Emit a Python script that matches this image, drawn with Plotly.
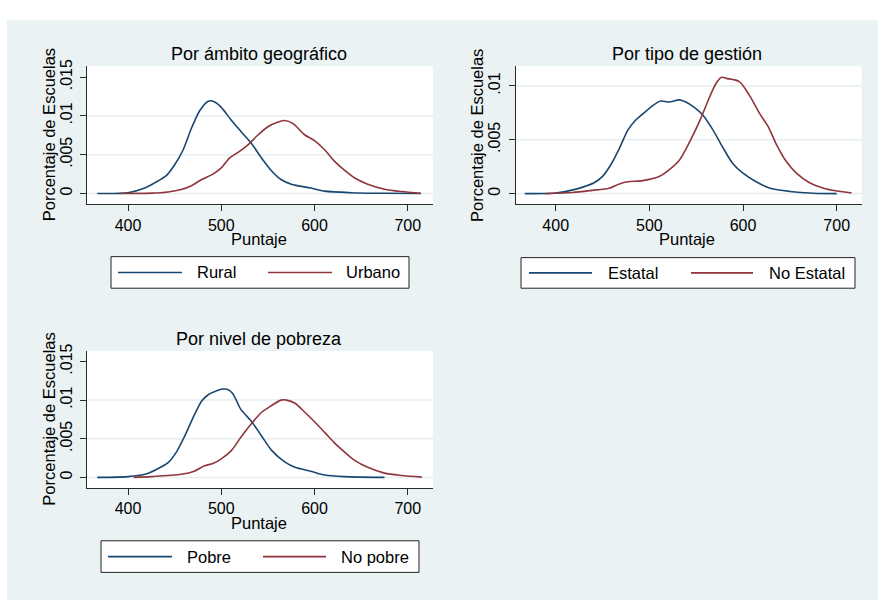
import plotly.graph_objects as go

W, H = 878, 600

# ---------------- data ----------------
rural_x = [367, 400, 418, 429, 441, 450, 459, 468, 477, 486, 493, 500, 511, 521, 532, 543, 554, 564, 575, 596, 611, 639, 675, 714]
rural_y = [0.0, 0.0001, 0.0007, 0.0014, 0.0023, 0.0037, 0.0056, 0.0084, 0.0107, 0.0119, 0.0118, 0.0111, 0.0094, 0.0080, 0.0065, 0.0046, 0.0029, 0.0018, 0.0012, 0.0007, 0.0003, 0.0001, 0.00002, 0.0]

urbano_x = [391, 425, 443, 457, 468, 479, 491, 500, 509, 518, 529, 539, 550, 561, 568, 577, 589, 600, 611, 621, 632, 643, 657, 675, 693, 714]
urbano_y = [0.0, 0.00004, 0.0002, 0.0005, 0.0010, 0.0018, 0.0025, 0.0033, 0.0046, 0.0053, 0.0063, 0.0075, 0.0086, 0.0092, 0.0094, 0.0090, 0.0076, 0.0068, 0.0056, 0.0042, 0.0030, 0.0020, 0.0012, 0.00055, 0.00025, 0.00004]

estatal_x = [367, 400, 416, 429, 441, 450, 459, 468, 477, 484, 493, 504, 512, 521, 532, 539, 548, 557, 568, 579, 589, 600, 614, 629, 650, 675, 700]
estatal_y = [0.0, 0.00006, 0.0003, 0.0006, 0.0010, 0.0016, 0.0027, 0.0042, 0.0059, 0.0067, 0.0074, 0.0082, 0.0086, 0.0085, 0.0087, 0.0085, 0.0080, 0.0073, 0.0059, 0.0042, 0.0028, 0.0019, 0.0011, 0.0005, 0.0002, 0.00003, 0.0]

noestatal_x = [389, 418, 439, 457, 468, 477, 493, 511, 521, 532, 543, 554, 564, 571, 577, 582, 596, 607, 618, 627, 636, 646, 657, 671, 686, 700, 716]
noestatal_y = [0.0, 0.0001, 0.0003, 0.0005, 0.0009, 0.0011, 0.0012, 0.0016, 0.0022, 0.0031, 0.0048, 0.0068, 0.0089, 0.0102, 0.0108, 0.0107, 0.0104, 0.0091, 0.0074, 0.0062, 0.0045, 0.0030, 0.0019, 0.0010, 0.0005, 0.00024, 0.00006]

pobre_x = [367, 400, 418, 430, 443, 452, 461, 470, 479, 486, 493, 500, 506, 512, 521, 532, 543, 554, 568, 579, 596, 611, 632, 675]
pobre_y = [0.0, 0.0001, 0.0004, 0.0010, 0.0019, 0.0033, 0.0054, 0.0078, 0.0099, 0.0107, 0.0111, 0.0114, 0.0114, 0.0109, 0.0088, 0.0073, 0.0054, 0.0035, 0.0020, 0.0013, 0.0008, 0.0003, 0.0001, 0.0]

nopobre_x = [406, 425, 457, 471, 482, 491, 500, 511, 521, 532, 543, 554, 564, 570, 579, 589, 600, 611, 621, 632, 643, 657, 675, 693, 715]
nopobre_y = [0.0, 0.0001, 0.0004, 0.0008, 0.0015, 0.0018, 0.0024, 0.0035, 0.0052, 0.0069, 0.0084, 0.0093, 0.0100, 0.0100, 0.0096, 0.0085, 0.0072, 0.0058, 0.0045, 0.0033, 0.0022, 0.0013, 0.00055, 0.00025, 0.00004]

panel_titles = ["Por ámbito geográfico", "Por tipo de gestión", "Por nivel de pobreza"]
series_names = [["Rural", "Urbano"], ["Estatal", "No Estatal"], ["Pobre", "No pobre"]]
x_title = "Puntaje"
y_title = "Porcentaje de Escuelas"
x_ticks = [400, 500, 600, 700]
y_ticks_1 = [0, 0.005, 0.01, 0.015]
y_ticks_2 = [0, 0.005, 0.01]
y_ticks_3 = [0, 0.005, 0.01, 0.015]
y_tick_text = {0: "0", 0.005: ".005", 0.01: ".01", 0.015: ".015"}

# ---------------- styling ----------------
BLUE = "#1a476f"
RED = "#90353b"
BG = "#eaf2f3"
GRID = "#e6eef0"
AXC = "#2b2b2b"
FONT = "Liberation Sans, Arial, sans-serif"


def px(x):
    return x / W


def py(y):
    return 1 - y / H


fig = go.Figure()

panels = [
    dict(xs=(rural_x, urbano_x), ys=(rural_y, urbano_y), ax="", box=(87, 433, 59, 199),
         xr=[356, 727], yr=[-0.0014, 0.0164], yt=y_ticks_1),
    dict(xs=(estatal_x, noestatal_x), ys=(estatal_y, noestatal_y), ax="2", box=(515.7, 861.7, 59, 199),
         xr=[357.3, 726.7], yr=[-0.001, 0.01183], yt=y_ticks_2),
    dict(xs=(pobre_x, nopobre_x), ys=(pobre_y, nopobre_y), ax="3", box=(87, 433, 347.7, 486.7),
         xr=[356, 727], yr=[-0.0014, 0.01635], yt=y_ticks_3),
]

shapes = []
annotations = []

# background region
shapes.append(dict(type="rect", xref="paper", yref="paper", x0=px(7), x1=1, y0=0, y1=py(12),
                   fillcolor=BG, line=dict(width=0), layer="below"))

for i, p in enumerate(panels):
    ax = p["ax"]
    xa = "x" + ax
    ya = "y" + ax
    for k, color in enumerate((BLUE, RED)):
        fig.add_trace(go.Scatter(x=p["xs"][k], y=p["ys"][k], mode="lines", name=series_names[i][k],
                                 line=dict(color=color, width=1.6, shape="spline", smoothing=0.8),
                                 xaxis=xa, yaxis=ya, showlegend=False))
    x0, x1, y0, y1 = p["box"]
    fig.layout["xaxis" + ax] = dict(
        domain=[px(x0), px(x1)], anchor=ya, range=p["xr"], tickvals=x_ticks,
        showgrid=False, zeroline=False, showline=True, linecolor=AXC, linewidth=1,
        ticks="outside", ticklen=6, tickcolor=AXC, tickwidth=1,
        tickfont=dict(family=FONT, size=16, color="#000"), ticklabelstandoff=0)
    fig.layout["yaxis" + ax] = dict(
        domain=[py(y1), py(y0)], anchor=xa, range=p["yr"], tickvals=p["yt"],
        ticktext=[y_tick_text[v] for v in p["yt"]], tickangle=-90,
        showgrid=False, zeroline=False, showline=True, linecolor=AXC, linewidth=1,
        ticks="outside", ticklen=6, tickcolor=AXC, tickwidth=1,
        tickfont=dict(family=FONT, size=16, color="#000"), ticklabelstandoff=2)
    # plot area white
    shapes.append(dict(type="rect", xref="paper", yref="paper", x0=px(x0), x1=px(x1), y0=py(y1), y1=py(y0),
                       fillcolor="white", line=dict(width=0), layer="below"))
    # grid lines (not at the top tick)
    for v in p["yt"]:
        if v >= 0.015:
            continue
        shapes.append(dict(type="line", xref=xa + " domain", yref=ya, x0=0, x1=1, y0=v, y1=v,
                           line=dict(color=GRID, width=1.5), layer="below"))
    cx = (x0 + x1) / 2 + 0.5
    cy = (y0 + y1) / 2
    annotations.append(dict(text=panel_titles[i], xref="paper", yref="paper", x=px(cx - 2),
                            y=py(y0 - 12), xanchor="center", yanchor="middle", showarrow=False,
                            font=dict(family=FONT, size=18, color="#000")))
    annotations.append(dict(text=x_title, xref="paper", yref="paper", x=px(cx - 2), y=py(y1 + 35),
                            xanchor="center", yanchor="middle", showarrow=False,
                            font=dict(family=FONT, size=16.5, color="#000")))
    annotations.append(dict(text=y_title, xref="paper", yref="paper", x=px(x0 - 38), y=py(cy),
                            xanchor="center", yanchor="middle", showarrow=False, textangle=-90,
                            font=dict(family=FONT, size=16.5, color="#000")))

# legends (drawn boxes with line samples and labels)
legends = [
    dict(box=(111, 409, 252, 284), lines=((118, 182), (268, 332)), texts=(195, 344)),
    dict(box=(521, 855, 253, 284), lines=((529, 592), (691, 753)), texts=(606, 767)),
    dict(box=(101, 419, 540, 572), lines=((108, 172), (263, 326)), texts=(185, 339)),
]
for i, lg in enumerate(legends):
    bx0, bx1, by0, by1 = lg["box"]
    shapes.append(dict(type="rect", xref="paper", yref="paper", x0=px(bx0), x1=px(bx1), y0=py(by1), y1=py(by0),
                       fillcolor="white", line=dict(color="#222", width=1)))
    ym = (by0 + by1) / 2
    for k, color in enumerate((BLUE, RED)):
        lx0, lx1 = lg["lines"][k]
        shapes.append(dict(type="line", xref="paper", yref="paper", x0=px(lx0), x1=px(lx1), y0=py(ym), y1=py(ym),
                           line=dict(color=color, width=1.6)))
        annotations.append(dict(text=series_names[i][k], xref="paper", yref="paper", x=px(lg["texts"][k]),
                                y=py(ym), xanchor="left", yanchor="middle", showarrow=False,
                                font=dict(family=FONT, size=16.5, color="#000")))

fig.update_layout(
    width=W, height=H, margin=dict(l=0, r=0, t=0, b=0),
    paper_bgcolor="white", plot_bgcolor="rgba(0,0,0,0)",
    shapes=shapes, annotations=annotations, showlegend=False,
    font=dict(family=FONT),
)

fig.write_html(
    "out.html",
    config={"displayModeBar": False},
    post_script=(
        "document.documentElement.style.margin='0';"
        "document.body.style.margin='0';document.body.style.padding='0';"
        "document.body.style.overflow='hidden';"
        "var gd=document.getElementById('{plot_id}');"
        "gd.style.position='fixed';gd.style.top='0px';gd.style.left='0px';"
    ),
)
